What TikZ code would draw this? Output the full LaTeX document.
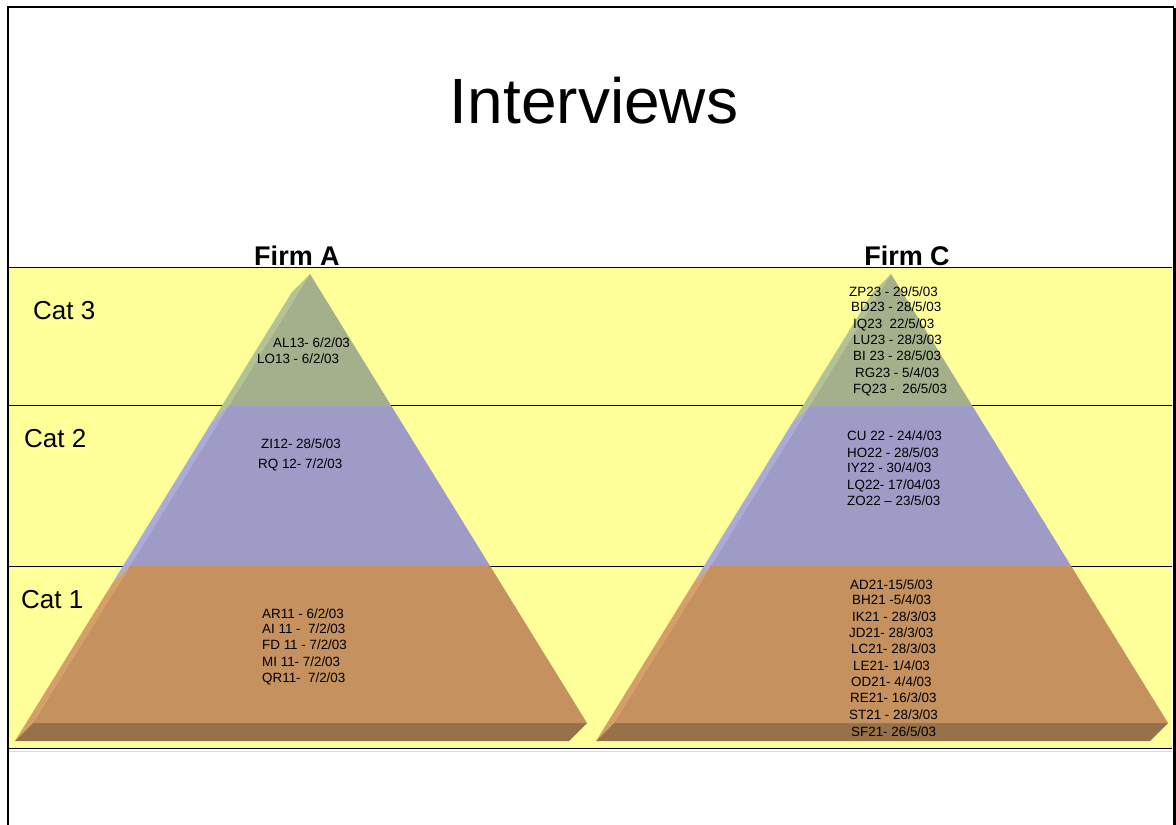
\documentclass[tikz,border=0pt]{standalone}
\usepackage{fontspec}
\setmainfont{Liberation Sans}
\definecolor{band}{HTML}{FFFF99}
\definecolor{topface}{HTML}{A3B08B}
\definecolor{topside}{HTML}{B4C396}
\definecolor{midface}{HTML}{9E9BC6}
\definecolor{midside}{HTML}{ABABD9}
\definecolor{lowface}{HTML}{C4915F}
\definecolor{lowside}{HTML}{D69E68}
\definecolor{baseface}{HTML}{96714A}
\begin{document}
\begin{tikzpicture}[x=1pt,y=-1pt,
  item/.style={anchor=base west,inner sep=0pt,font=\fontsize{13.4}{16}\selectfont},
  catlabel/.style={anchor=base west,inner sep=0pt,font=\fontsize{26}{30}\selectfont},
  firmlabel/.style={anchor=base,inner sep=0pt,font=\bfseries\fontsize{27}{30}\selectfont},
  titlelabel/.style={anchor=base,inner sep=0pt,font=\fontsize{64}{70}\selectfont},
  rule/.style={draw=black,line width=1pt},
  frame/.style={draw=black,line width=2.2pt}]
\useasboundingbox (0,0) rectangle (1176,825);
\fill[white] (0,0) rectangle (1176,825);

% category band and its dividing rules
\fill[band] (9,267) rectangle (1172,748);
\draw[rule] (9,267) -- (1172,267);
\draw[rule] (9,405) -- (1172,405);
\draw[rule] (9,566) -- (1172,566);
\draw[rule] (9,748) -- (1172,748);
\draw[black!15,line width=1pt] (9,751) -- (1172,751);

% slide frame
\draw[frame] (8,825) -- (8,7) -- (1174,7);
\draw[black,line width=3pt] (1174.5,8) -- (1174.5,825);

% two pyramids: front face in three tiers, left side face and base slab
\foreach \cx in {310,891}{
  \begin{scope}[shift={(\cx,0)}]
    % side face strips
    \fill[topside] (0,274) -- (-18,292) -- (-99.4,424) -- (-81.4,406) -- cycle;
    \fill[midside] (-81.4,406) -- (-99.4,424) -- (-198.1,584) -- (-180.1,566) -- cycle;
    \fill[lowside] (-180.1,566) -- (-198.1,584) -- (-295,741) -- (-277,723) -- cycle;
    % base slab
    \fill[baseface] (-277,723) -- (277,723) -- (259,741) -- (-295,741) -- cycle;
    % front face tiers
    \fill[topface] (0,274) -- (81.4,406) -- (-81.4,406) -- cycle;
    \fill[midface] (-81.4,406) -- (81.4,406) -- (180.1,566) -- (-180.1,566) -- cycle;
    \fill[lowface] (-180.1,566) -- (180.1,566) -- (277,723) -- (-277,723) -- cycle;
  \end{scope}
}

% headings
\node[titlelabel] (title) at (594,123) {Interviews};
\node[firmlabel] (firmA) at (297,265) {Firm A};
\node[firmlabel] (firmC) at (907,265) {Firm C};
\node[catlabel] (cat3) at (33,319) {Cat 3};
\node[catlabel] (cat2) at (24,447) {Cat 2};
\node[catlabel] (cat1) at (21,608) {Cat 1};

% Firm A interviews
\node[item] (a3a) at (273,347) {AL13- 6/2/03};
\node[item] (a3b) at (257,363) {LO13 - 6/2/03};
\node[item] (a2a) at (261,448) {ZI12- 28/5/03};
\node[item] (a2b) at (258,468) {RQ 12- 7/2/03};
\node[item] (a1a) at (262,618) {AR11 - 6/2/03};
\node[item] (a1b) at (262,633) {AI 11 -\ \ 7/2/03};
\node[item] (a1c) at (262,649) {FD 11 - 7/2/03};
\node[item] (a1d) at (262,666) {MI 11- 7/2/03};
\node[item] (a1e) at (262,682) {QR11-\ \ 7/2/03};

% Firm C interviews
\node[item] (c3a) at (849,296) {ZP23 - 29/5/03};
\node[item] (c3b) at (851,311) {BD23 - 28/5/03};
\node[item] (c3c) at (853,328) {IQ23\ \ 22/5/03};
\node[item] (c3d) at (853,344) {LU23 - 28/3/03};
\node[item] (c3e) at (853,360) {BI 23 - 28/5/03};
\node[item] (c3f) at (855,377) {RG23 - 5/4/03};
\node[item] (c3g) at (853,393) {FQ23 -\ \ 26/5/03};
\node[item] (c2a) at (847,440) {CU 22 - 24/4/03};
\node[item] (c2b) at (847,457) {HO22 - 28/5/03};
\node[item] (c2c) at (847,472) {IY22 - 30/4/03};
\node[item] (c2d) at (847,489) {LQ22- 17/04/03};
\node[item] (c2e) at (847,505) {ZO22 – 23/5/03};
\node[item] (c1a) at (850,589) {AD21-15/5/03};
\node[item] (c1b) at (852,604) {BH21 -5/4/03};
\node[item] (c1c) at (852,621) {IK21 - 28/3/03};
\node[item] (c1d) at (849,637) {JD21- 28/3/03};
\node[item] (c1e) at (851,653) {LC21- 28/3/03};
\node[item] (c1f) at (853,670) {LE21- 1/4/03};
\node[item] (c1g) at (851,686) {OD21- 4/4/03};
\node[item] (c1h) at (850,702) {RE21- 16/3/03};
\node[item] (c1i) at (849,719) {ST21 - 28/3/03};
\node[item] (c1j) at (851,736) {SF21- 26/5/03};
\end{tikzpicture}
\end{document}
